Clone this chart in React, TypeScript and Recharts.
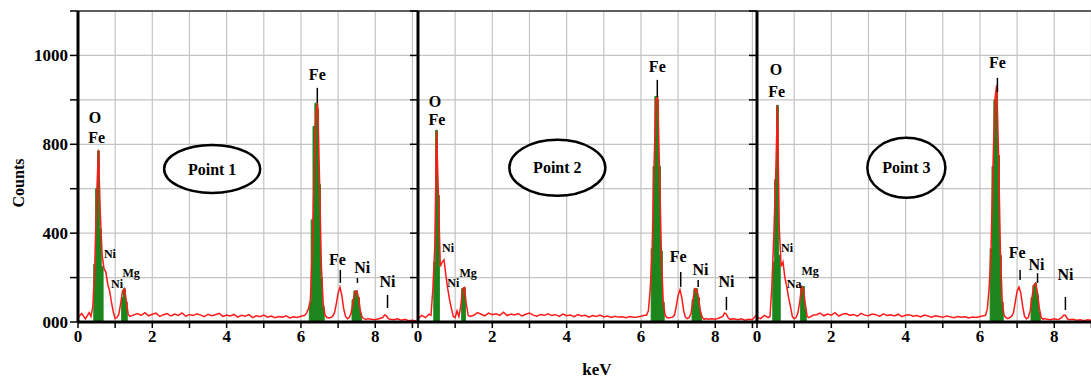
import React from 'react';
import {
    ComposedChart,
    Line,
    Area,
    XAxis,
    YAxis,
    CartesianGrid,
    ReferenceLine,
    ReferenceDot
} from 'recharts';

// energy grid (keV) – denser around the peaks
const lowEnergy = [0, 0.1, 0.2, 0.3, 0.35, 0.4, 0.45, 0.5, 0.55, 0.6, 0.65, 0.7, 0.75, 0.8, 0.85, 0.9, 0.95, 1.0, 1.05, 1.1, 1.15, 1.2, 1.25, 1.3, 1.35, 1.4, 1.5];
const bgEnergy = [
    1.6, 1.7, 1.8, 1.9, 2.0, 2.1, 2.2, 2.3, 2.4, 2.5,
    2.6, 2.7, 2.8, 2.9, 3.0, 3.1, 3.2, 3.3, 3.4, 3.5,
    3.6, 3.7, 3.8, 3.9, 4.0, 4.1, 4.2, 4.3, 4.4, 4.5,
    4.6, 4.7, 4.8, 4.9, 5.0, 5.1, 5.2, 5.3, 5.4, 5.5,
    5.6, 5.7, 5.8, 5.9, 6.0, 6.1
];
const peakEnergy = [
    6.15, 6.2, 6.25, 6.3, 6.35, 6.4, 6.45, 6.5, 6.55, 6.6,
    6.65, 6.7, 6.75, 6.8, 6.85, 6.9, 6.95, 7.0, 7.05, 7.1,
    7.15, 7.2, 7.25, 7.3, 7.35, 7.4, 7.45, 7.5, 7.55, 7.6,
    7.65, 7.7, 7.75, 7.8
];
const tailEnergy = [7.9, 8.0, 8.1, 8.2, 8.25, 8.3, 8.35, 8.4, 8.5, 8.6, 8.7, 8.8, 8.9, 9.0, 9.1];

// Point 1 spectrum (red)
const low1 = [20, 38, 14, 42, 25, 70, 250, 560, 775, 490, 300, 240, 225, 170, 140, 90, 45, 15, 20, 35, 85, 140, 150, 95, 35, 25, 32];
const bg1 = [
    38, 30, 42, 28, 35, 40, 25, 33, 38, 27,
    36, 30, 41, 26, 34, 29, 37, 31, 24, 35,
    28, 33, 39, 25, 31, 27, 34, 22, 30, 26,
    33, 20, 28, 24, 31, 22, 27, 19, 25, 22,
    28, 18, 24, 20, 26, 30
];
const peaks1 = [
    40, 60, 90, 300, 620, 940, 985, 640, 250, 80,
    30, 20, 18, 20, 25, 40, 80, 130, 157, 120,
    60, 25, 15, 20, 40, 90, 135, 140, 110, 50,
    20, 15, 12, 15
];
const tail1 = [12, 10, 15, 20, 32, 28, 15, 12, 10, 14, 8, 12, 6, 8, 5];
// Point 1 identified peaks (green)
const fit1: [number, number][] = [
    [0.4, 0], [0.45, 260], [0.5, 600], [0.55, 770], [0.6, 420], [0.65, 250], [0.7, 0],
    [1.15, 0], [1.2, 110], [1.25, 150], [1.3, 90], [1.35, 0],
    [6.2, 0], [6.25, 90], [6.3, 460], [6.35, 880], [6.4, 985], [6.45, 960], [6.5, 620], [6.55, 200], [6.6, 70], [6.65, 0],
    [7.35, 0], [7.4, 100], [7.45, 140], [7.5, 140], [7.55, 110], [7.6, 40], [7.65, 0]
];

// Point 2
const low2 = [15, 30, 20, 35, 30, 150, 330, 860, 570, 250, 270, 280, 210, 150, 100, 60, 25, 20, 50, 25, 70, 150, 155, 80, 30, 25, 30];
const bg2 = [
    42, 35, 28, 40, 33, 37, 30, 44, 29, 36,
    32, 38, 27, 35, 40, 31, 26, 34, 30, 37,
    29, 33, 25, 36, 28, 31, 24, 33, 27, 30,
    22, 29, 25, 31, 23, 27, 20, 26, 22, 24,
    19, 25, 21, 23, 26, 30
];
const peaks2 = [
    30, 50, 150, 320, 690, 1000, 1010, 690, 300, 90,
    30, 20, 18, 20, 22, 30, 70, 120, 145, 110,
    50, 20, 15, 20, 40, 100, 150, 145, 110, 50,
    20, 12, 15, 12
];
const tail2 = [15, 12, 18, 25, 40, 35, 18, 12, 15, 10, 14, 8, 12, 10, 30];
const fit2: [number, number][] = [
    [0.4, 0], [0.45, 270], [0.5, 863], [0.55, 570], [0.6, 0],
    [1.15, 0], [1.2, 150], [1.25, 155], [1.3, 0],
    [6.25, 0], [6.3, 330], [6.35, 700], [6.4, 1015], [6.45, 1000], [6.5, 700], [6.55, 320], [6.6, 90], [6.65, 0],
    [7.35, 0], [7.4, 100], [7.45, 150], [7.5, 150], [7.55, 110], [7.6, 40], [7.65, 0]
];

// Point 3
const low3 = [20, 15, 30, 20, 25, 160, 380, 640, 975, 420, 250, 270, 200, 160, 110, 70, 25, 15, 20, 40, 90, 160, 150, 80, 25, 20, 30];
const bg3 = [
    33, 40, 28, 36, 31, 42, 27, 35, 38, 30,
    34, 26, 39, 31, 28, 36, 33, 25, 37, 29,
    32, 27, 35, 24, 30, 33, 26, 29, 23, 31,
    27, 22, 28, 25, 21, 27, 23, 19, 25, 21,
    24, 18, 22, 20, 25, 28
];
const peaks3 = [
    30, 60, 160, 340, 700, 1000, 1065, 760, 320, 90,
    30, 20, 15, 20, 25, 40, 90, 140, 157, 130,
    70, 25, 15, 20, 50, 110, 165, 175, 130, 60,
    20, 12, 15, 12
];
const tail3 = [10, 14, 10, 20, 30, 30, 15, 10, 12, 8, 10, 6, 10, 8, 6];
const fit3: [number, number][] = [
    [0.4, 0], [0.45, 270], [0.5, 640], [0.55, 975], [0.6, 300], [0.65, 0],
    [1.15, 0], [1.2, 160], [1.25, 160], [1.3, 60], [1.35, 0],
    [6.25, 0], [6.3, 330], [6.35, 700], [6.4, 1000], [6.45, 1040], [6.5, 750], [6.55, 300], [6.6, 90], [6.65, 0],
    [7.35, 0], [7.4, 110], [7.45, 165], [7.5, 175], [7.55, 120], [7.6, 45], [7.65, 0]
];

// element labels: [text, keV, counts, major?]
type Tag = [string, number, number, boolean];
const labels1: Tag[] = [
    ['O', 0.46, 896, true], ['Fe', 0.5, 806, true], ['Ni', 0.86, 288, false], ['Ni', 1.05, 153, false],
    ['Mg', 1.43, 203, false], ['Fe', 6.44, 1090, true], ['Fe', 6.98, 257, true], ['Ni', 7.65, 220, true], ['Ni', 8.33, 158, true]
];
const labels2: Tag[] = [
    ['O', 0.46, 968, true], ['Fe', 0.51, 887, true], ['Ni', 0.81, 315, false], ['Ni', 0.95, 158, false],
    ['Mg', 1.35, 203, false], ['Fe', 6.44, 1126, true], ['Fe', 7.0, 270, true], ['Ni', 7.6, 212, true], ['Ni', 8.3, 158, true]
];
const labels3: Tag[] = [
    ['O', 0.51, 1112, true], ['Fe', 0.53, 1013, true], ['Ni', 0.81, 315, false], ['Na', 1.0, 153, false],
    ['Mg', 1.43, 212, false], ['Fe', 6.47, 1144, true], ['Fe', 7.0, 288, true], ['Ni', 7.52, 234, true], ['Ni', 8.3, 189, true]
];

// marker lines: [keV, from, to]
const markers1: [number, number, number][] = [[6.44, 986, 1054], [7.06, 176, 234], [7.52, 176, 198], [8.33, 63, 122]];
const markers2: [number, number, number][] = [[6.44, 1013, 1090], [7.07, 158, 225], [7.54, 158, 189], [8.3, 54, 113]];
const markers3: [number, number, number][] = [[6.47, 1035, 1099], [7.08, 189, 234], [7.55, 176, 220], [8.3, 54, 113]];

const yTicks = [0, 200, 400, 600, 800, 1000, 1200, 1400];
const yTickText: Record<number, string> = { 0: '000', 400: '400', 800: '800', 1200: '1000' };
const xTicks = [0, 1, 2, 3, 4, 5, 6, 7, 8, 9];

const RED = '#ff1a1a';
const GREEN = '#1c861c';
const FONT = "'Liberation Serif', 'Times New Roman', serif";

function buildRows(parts: number[][], fit: [number, number][]) {
    const energy = [...lowEnergy, ...bgEnergy, ...peakEnergy, ...tailEnergy];
    const counts = parts.flat();
    const fitMap = new Map(fit.map(([e, c]) => [Math.round(e * 100), c]));
    return energy.map((e, i) => {
        const k = Math.round(e * 100);
        return { keV: e, counts: counts[i], fit: fitMap.has(k) ? fitMap.get(k) : null };
    });
}

interface PanelProps {
    rows: ReturnType<typeof buildRows>;
    labels: Tag[];
    markers: [number, number, number][];
    name: string;
    center: [number, number];
    rx: number;
    ry: number;
    left: number;
    first?: boolean;
}

function Panel({ rows, labels, markers, name, center, rx, ry, left, first }: PanelProps) {
    const axisW = first ? 78 : 10;
    return (
        <div style={{ position: 'absolute', left: left - axisW, top: 0 }}>
            <ComposedChart
                width={axisW + 340}
                height={381}
                data={rows}
                margin={{ top: 11, right: 0, bottom: 29, left: 0 }}
            >
                <CartesianGrid stroke="#c4c4c4" strokeWidth={1.2} />
                <XAxis
                    dataKey="keV"
                    type="number"
                    domain={[0, 9.15]}
                    ticks={xTicks}
                    tickFormatter={(v) => (v % 2 === 0 ? String(v) : '')}
                    tick={{ fill: '#000', fontSize: 17, fontWeight: 700, fontFamily: FONT }}
                    tickSize={6}
                    tickLine={{ stroke: '#000', strokeWidth: 1.5 }}
                    axisLine={{ stroke: '#000', strokeWidth: 3 }}
                    height={30}
                    allowDataOverflow
                />
                <YAxis
                    type="number"
                    domain={[0, 1400]}
                    ticks={yTicks}
                    width={axisW}
                    tickFormatter={(v) => (first ? yTickText[v] ?? '' : '')}
                    tick={{ fill: '#000', fontSize: 17, fontWeight: 700, fontFamily: FONT }}
                    tickSize={8}
                    tickLine={{ stroke: '#000', strokeWidth: 1.5 }}
                    axisLine={{ stroke: '#000', strokeWidth: 3 }}
                    allowDataOverflow
                />
                <ReferenceLine y={1400} stroke="#333" strokeWidth={1.5} />
                <Line
                    type="linear"
                    dataKey="counts"
                    stroke={RED}
                    strokeWidth={1.5}
                    dot={false}
                    isAnimationActive={false}
                />
                <Area
                    type="step"
                    dataKey="fit"
                    stroke={GREEN}
                    strokeWidth={1}
                    fill={GREEN}
                    fillOpacity={1}
                    connectNulls={false}
                    isAnimationActive={false}
                />
                {markers.map(([e, a, b], i) => (
                    <ReferenceLine
                        key={'m' + i}
                        segment={[{ x: e, y: a }, { x: e, y: b }]}
                        stroke="#000"
                        strokeWidth={1.5}
                    />
                ))}
                {labels.map(([t, e, c, major], i) => (
                    <ReferenceDot
                        key={'l' + i}
                        x={e}
                        y={c}
                        r={0}
                        shape={(p: any) => (
                            <text
                                x={p.cx}
                                y={p.cy}
                                textAnchor="middle"
                                fontFamily={FONT}
                                fontWeight={700}
                                fontSize={major ? 16 : 12}
                                fill="#000"
                            >
                                {t}
                            </text>
                        )}
                    />
                ))}
                <ReferenceDot
                    x={center[0]}
                    y={center[1]}
                    r={0}
                    shape={(p: any) => (
                        <g>
                            <ellipse cx={p.cx} cy={p.cy} rx={rx} ry={ry} fill="#fff" stroke="#000" strokeWidth={2.5} />
                            <text
                                x={p.cx}
                                y={p.cy}
                                dy="0.35em"
                                textAnchor="middle"
                                fontFamily={FONT}
                                fontWeight={700}
                                fontSize={16}
                                fill="#000"
                            >
                                {name}
                            </text>
                        </g>
                    )}
                />
            </ComposedChart>
        </div>
    );
}

export default function App() {
    const rows1 = buildRows([low1, bg1, peaks1, tail1], fit1);
    const rows2 = buildRows([low2, bg2, peaks2, tail2], fit2);
    const rows3 = buildRows([low3, bg3, peaks3, tail3], fit3);
    return (
        <div
            style={{
                position: 'absolute',
                left: 0,
                top: 0,
                width: 1091,
                height: 381,
                overflow: 'hidden',
                background: '#fff',
                fontFamily: FONT
            }}
        >
            <Panel rows={rows1} labels={labels1} markers={markers1} name="Point 1" center={[3.61, 689]} rx={48} ry={24} left={78} first />
            <Panel rows={rows2} labels={labels2} markers={markers2} name="Point 2" center={[3.75, 694]} rx={48} ry={28} left={418} />
            <Panel rows={rows3} labels={labels3} markers={markers3} name="Point 3" center={[4.02, 694]} rx={39} ry={30} left={757} />
            <div
                style={{
                    position: 'absolute',
                    left: 19,
                    top: 183,
                    transform: 'translate(-50%, -50%) rotate(-90deg)',
                    fontSize: 16,
                    fontWeight: 700,
                    whiteSpace: 'nowrap',
                    lineHeight: 1
                }}
            >
                Counts
            </div>
            <div
                style={{
                    position: 'absolute',
                    left: 597,
                    top: 361,
                    transform: 'translateX(-50%)',
                    fontSize: 17,
                    fontWeight: 700,
                    lineHeight: 1
                }}
            >
                keV
            </div>
        </div>
    );
}
